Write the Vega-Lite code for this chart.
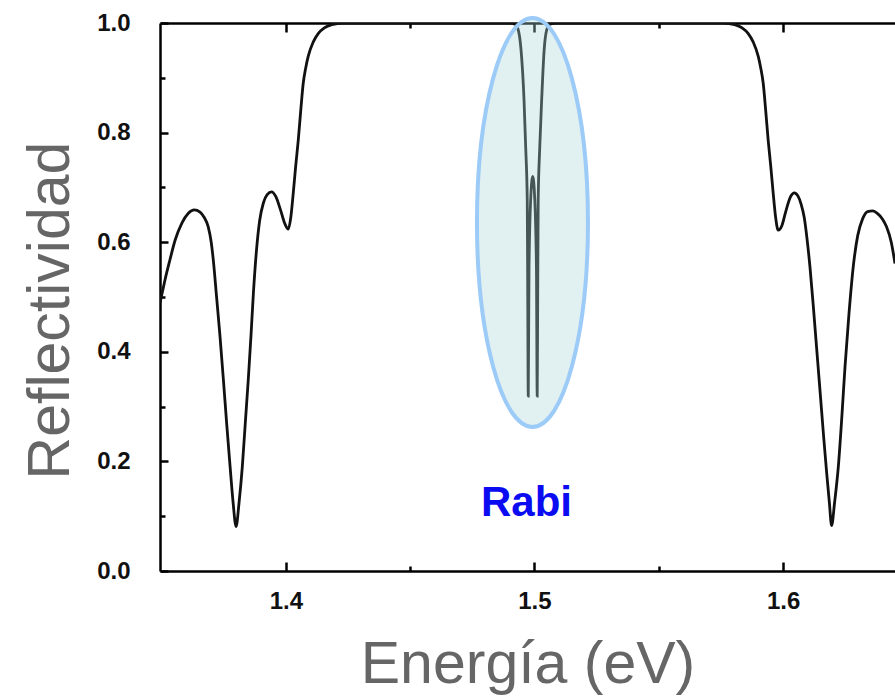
{
  "$schema": "https://vega.github.io/schema/vega-lite/v6.json",
  "width": 735,
  "height": 548,
  "autosize": {"type": "none"},
  "padding": {"left": 160, "top": 23, "right": 0, "bottom": 125},
  "background": "white",
  "config": {"view": {"stroke": null}},
  "datasets": {
    "curve": [
      {"E": 1.3494, "R": 0.489}, {"E": 1.3504, "R": 0.51}, {"E": 1.3514, "R": 0.531}, {"E": 1.3534, "R": 0.568},
      {"E": 1.3555, "R": 0.604}, {"E": 1.3582, "R": 0.635}, {"E": 1.3608, "R": 0.653}, {"E": 1.3632, "R": 0.659},
      {"E": 1.3655, "R": 0.655}, {"E": 1.3672, "R": 0.645}, {"E": 1.3688, "R": 0.628},
      {"E": 1.37, "R": 0.6}, {"E": 1.371, "R": 0.56}, {"E": 1.372, "R": 0.508}, {"E": 1.3735, "R": 0.43},
      {"E": 1.3749, "R": 0.349}, {"E": 1.3762, "R": 0.27}, {"E": 1.3776, "R": 0.19}, {"E": 1.3788, "R": 0.125},
      {"E": 1.38, "R": 0.081}, {"E": 1.3812, "R": 0.125}, {"E": 1.3825, "R": 0.19}, {"E": 1.3837, "R": 0.27},
      {"E": 1.3849, "R": 0.349}, {"E": 1.386, "R": 0.43}, {"E": 1.387, "R": 0.51}, {"E": 1.3882, "R": 0.585},
      {"E": 1.3895, "R": 0.64}, {"E": 1.391, "R": 0.672}, {"E": 1.3925, "R": 0.687}, {"E": 1.3943, "R": 0.692},
      {"E": 1.396, "R": 0.683}, {"E": 1.3978, "R": 0.66}, {"E": 1.3995, "R": 0.635}, {"E": 1.401, "R": 0.624},
      {"E": 1.402, "R": 0.645}, {"E": 1.403, "R": 0.69}, {"E": 1.404, "R": 0.74}, {"E": 1.405, "R": 0.786},
      {"E": 1.406, "R": 0.84}, {"E": 1.407, "R": 0.89}, {"E": 1.408, "R": 0.918}, {"E": 1.409, "R": 0.939},
      {"E": 1.411, "R": 0.965}, {"E": 1.4131, "R": 0.981}, {"E": 1.4155, "R": 0.991}, {"E": 1.4185, "R": 0.997},
      {"E": 1.423, "R": 1.0}, {"E": 1.49, "R": 1.0}, {"E": 1.4922, "R": 0.998}, {"E": 1.4935, "R": 0.987},
      {"E": 1.4946, "R": 0.951}, {"E": 1.4958, "R": 0.86}, {"E": 1.4965, "R": 0.77}, {"E": 1.4971, "R": 0.677},
      {"E": 1.4973, "R": 0.5}, {"E": 1.4975, "R": 0.319}, {"E": 1.4978, "R": 0.55}, {"E": 1.4985, "R": 0.68},
      {"E": 1.4993, "R": 0.72}, {"E": 1.5001, "R": 0.68}, {"E": 1.5008, "R": 0.55}, {"E": 1.5011, "R": 0.319},
      {"E": 1.5013, "R": 0.5}, {"E": 1.5015, "R": 0.677}, {"E": 1.5021, "R": 0.77}, {"E": 1.5029, "R": 0.86},
      {"E": 1.5039, "R": 0.951}, {"E": 1.5049, "R": 0.987}, {"E": 1.5062, "R": 0.998}, {"E": 1.509, "R": 1.0},
      {"E": 1.576, "R": 1.0}, {"E": 1.5805, "R": 0.997}, {"E": 1.5835, "R": 0.991}, {"E": 1.5859, "R": 0.981},
      {"E": 1.588, "R": 0.965}, {"E": 1.59, "R": 0.939}, {"E": 1.591, "R": 0.918}, {"E": 1.592, "R": 0.89},
      {"E": 1.593, "R": 0.84}, {"E": 1.594, "R": 0.786}, {"E": 1.595, "R": 0.74}, {"E": 1.596, "R": 0.69},
      {"E": 1.597, "R": 0.645}, {"E": 1.598, "R": 0.622}, {"E": 1.5995, "R": 0.63}, {"E": 1.601, "R": 0.655},
      {"E": 1.603, "R": 0.683}, {"E": 1.6045, "R": 0.69}, {"E": 1.606, "R": 0.684}, {"E": 1.6072, "R": 0.67},
      {"E": 1.6085, "R": 0.645}, {"E": 1.6097, "R": 0.603}, {"E": 1.6108, "R": 0.555}, {"E": 1.6122, "R": 0.48},
      {"E": 1.6136, "R": 0.4}, {"E": 1.615, "R": 0.32}, {"E": 1.6163, "R": 0.245}, {"E": 1.6175, "R": 0.18},
      {"E": 1.6186, "R": 0.125}, {"E": 1.6195, "R": 0.083}, {"E": 1.6207, "R": 0.125}, {"E": 1.6222, "R": 0.19},
      {"E": 1.6236, "R": 0.28}, {"E": 1.6249, "R": 0.373}, {"E": 1.6265, "R": 0.47}, {"E": 1.6282, "R": 0.555},
      {"E": 1.63, "R": 0.612}, {"E": 1.632, "R": 0.643}, {"E": 1.634, "R": 0.656}, {"E": 1.636, "R": 0.657},
      {"E": 1.638, "R": 0.652}, {"E": 1.64, "R": 0.642}, {"E": 1.6416, "R": 0.628}, {"E": 1.6435, "R": 0.6},
      {"E": 1.645, "R": 0.561}
    ],
    "region": [{"E": 1.4992, "R": 0.636}],
    "notes": [{"E": 1.4968, "R": 0.101, "label": "Rabi"}]
  },
  "resolve": {"axis": {"x": "independent", "y": "independent"}},
  "layer": [
    {
      "data": {"name": "curve"},
      "mark": {"type": "line", "color": "#111111", "strokeWidth": 2.8, "clip": true, "interpolate": "monotone"},
      "encoding": {
        "x": {
          "field": "E", "type": "quantitative",
          "scale": {"domain": [1.3494, 1.645], "nice": false, "zero": false},
          "axis": {
            "orient": "bottom", "values": [1.4, 1.45, 1.5, 1.55, 1.6],
            "labelExpr": "round(datum.value*100)%10==5 ? '' : format(datum.value,'.1f')",
            "tickSize": {"condition": {"test": "round(datum.value*100)%10==5", "value": -5}, "value": -9},
            "tickWidth": 2.5, "tickColor": "#000000", "domainColor": "#000000", "domainWidth": 2.5,
            "labelFont": "Liberation Sans", "labelFontWeight": "bold", "labelFontSize": 24, "labelColor": "#111111",
            "labelPadding": 27, "labelFlush": false, "labelOverlap": false, "grid": false,
            "title": "Energía (eV)", "titleFont": "Liberation Sans", "titleFontSize": 59,
            "titleFontWeight": "normal", "titleColor": "#666666", "titleBaseline": "alphabetic", "titleY": 111
          }
        },
        "y": {
          "field": "R", "type": "quantitative",
          "scale": {"domain": [0, 1], "nice": false},
          "axis": {
            "orient": "left", "values": [0, 0.1, 0.2, 0.3, 0.4, 0.5, 0.6, 0.7, 0.8, 0.9, 1.0],
            "labelExpr": "round(datum.value*10)%2==1 ? '' : format(datum.value,'.1f')",
            "tickSize": {"condition": {"test": "round(datum.value*10)%2==1", "value": -5}, "value": -8},
            "tickWidth": 2.5, "tickColor": "#000000", "domainColor": "#000000", "domainWidth": 2.5,
            "labelFont": "Liberation Sans", "labelFontWeight": "bold", "labelFontSize": 24, "labelColor": "#111111",
            "labelPadding": 38, "labelFlush": false, "labelOverlap": false, "grid": false,
            "title": "Reflectividad", "titleFont": "Liberation Sans", "titleFontSize": 59,
            "titleFontWeight": "normal", "titleColor": "#666666", "titleAngle": -90, "titleAlign": "center",
            "titleBaseline": "alphabetic", "titleX": -92, "titleY": 287
          }
        }
      }
    },
    {
      "data": {"name": "region"},
      "mark": {
        "type": "point",
        "shape": "M0,-1C0.1499,-1,0.2714,-0.5523,0.2714,0C0.2714,0.5523,0.1499,1,0,1C-0.1499,1,-0.2714,0.5523,-0.2714,0C-0.2714,-0.5523,-0.1499,-1,0,-1Z",
        "size": 167281, "filled": true, "fill": "#aad3d3", "fillOpacity": 0.35,
        "stroke": "#9ccbf8", "strokeWidth": 4, "strokeOpacity": 1, "opacity": 1, "clip": false
      },
      "encoding": {
        "x": {
          "field": "E", "type": "quantitative",
          "axis": {
            "orient": "top", "values": [1.4, 1.45, 1.5, 1.55, 1.6], "labels": false, "title": null,
            "tickSize": {"condition": {"test": "round(datum.value*100)%10==5", "value": -5}, "value": -9},
            "tickWidth": 2.5, "tickColor": "#000000", "domainColor": "#000000", "domainWidth": 2.5, "grid": false
          }
        },
        "y": {"field": "R", "type": "quantitative", "axis": null}
      }
    },
    {
      "data": {"name": "notes"},
      "mark": {
        "type": "text", "font": "Liberation Sans", "fontWeight": "bold", "fontSize": 42,
        "color": "#0b0bf2", "align": "center", "baseline": "alphabetic"
      },
      "encoding": {
        "x": {"field": "E", "type": "quantitative", "axis": null},
        "y": {"field": "R", "type": "quantitative", "axis": null},
        "text": {"field": "label"}
      }
    }
  ]
}
